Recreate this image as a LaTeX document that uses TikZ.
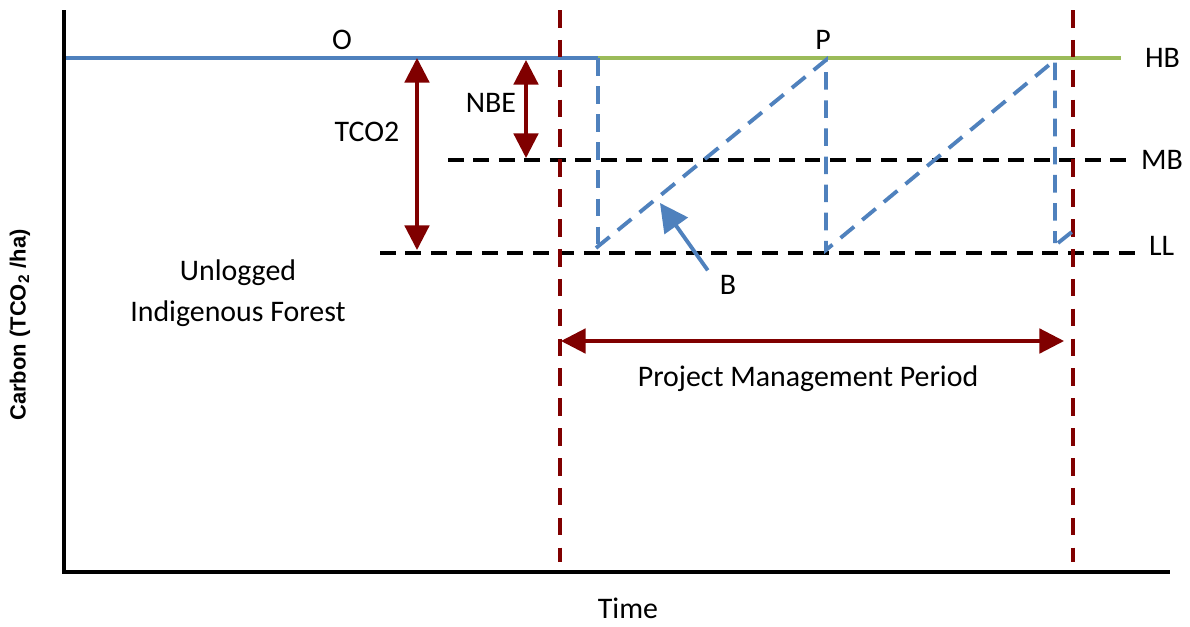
\documentclass[tikz,border=0pt]{standalone}
\usepackage{fontspec}
\setmainfont{Carlito}
\newfontfamily\axisfont{Liberation Sans}
\usetikzlibrary{arrows.meta, positioning}

\definecolor{lineblue}{HTML}{4F81BD}
\definecolor{linegreen}{HTML}{9BBB59}
\definecolor{darkred}{HTML}{800000}

\begin{document}
\begin{tikzpicture}[
    x=0.02cm, y=-0.02cm,
    every node/.style={font=\fontsize{17}{20}\selectfont, inner sep=1pt},
    axis/.style={line width=2.4pt, black},
    level/.style={line width=2pt, black, dash pattern=on 9pt off 5.5pt},
    period/.style={line width=1.9pt, darkred, dash pattern=on 10pt off 7pt},
    harvest/.style={line width=2.2pt, lineblue, dash pattern=on 10pt off 6pt},
    span/.style={line width=1.8pt, darkred, {Triangle[length=14pt,width=14pt]}-{Triangle[length=14pt,width=14pt]}}
]
    \useasboundingbox (0,0) rectangle (1190,626);

    % axes
    \coordinate (origin) at (64,572);
    \coordinate (ytop) at (64,10);
    \coordinate (xend) at (1170,572);
    \draw[axis] (ytop) -- (origin) -- (xend);

    % levels
    \coordinate (hbstart) at (66,58);
    \coordinate (hbsplit) at (598,58);
    \coordinate (hbend) at (1121,58);
    \draw[line width=1.9pt, lineblue] (hbstart) -- (hbsplit);
    \draw[line width=1.9pt, linegreen] (hbsplit) -- (hbend);
    \coordinate (mbstart) at (448,160);
    \coordinate (mbend) at (1130,160);
    \draw[level] (mbstart) -- (mbend);
    \coordinate (llstart) at (380,253);
    \coordinate (llend) at (1136,253);
    \draw[level] (llstart) -- (llend);

    % project period
    \coordinate (pstarttop) at (560,10);
    \coordinate (pstartbot) at (560,562);
    \coordinate (pendtop) at (1073,10);
    \coordinate (pendbot) at (1073,562);
    \draw[period] (pstarttop) -- (pstartbot);
    \draw[period] (pendtop) -- (pendbot);

    % harvest cycles
    \coordinate (c1) at (598,248);
    \coordinate (c2) at (596,248);
    \coordinate (c3) at (826,60);
    \coordinate (c4) at (826,250);
    \coordinate (c5) at (1055,60);
    \coordinate (c6) at (1055,243);
    \coordinate (c7) at (1058,243);
    \coordinate (c8) at (1073,231);
    \draw[harvest] (hbsplit) -- (c1);
    \draw[harvest] (c2) -- (c3) -- (c4) -- (c5) -- (c6);
    \draw[harvest] (c7) -- (c8);

    % arrows
    \coordinate (tcotop) at (417,58);
    \coordinate (tcobot) at (417,250);
    \draw[span] (tcotop) -- (tcobot);
    \coordinate (nbetop) at (526,60);
    \coordinate (nbebot) at (526,158);
    \draw[span] (nbetop) -- (nbebot);
    \coordinate (pmpleft) at (561,341);
    \coordinate (pmpright) at (1064,341);
    \draw[span] (pmpleft) -- (pmpright);

    % labels
    \node (o) at (342,40) {O};
    \node (p) at (823,40) {P};
    \node[anchor=west] (hb) at (1143,58) {HB};
    \node[anchor=west] (mb) at (1139,160) {MB};
    \node[anchor=west] (ll) at (1147,246) {LL};
    \node (tco) at (367,132) {TCO2};
    \node (nbe) at (491,103) {NBE};
    \node (b) at (728,285) {B};
    \node[align=center, font=\fontsize{17}{23}\selectfont] (forest) at (238,293) {Unlogged\\Indigenous Forest};
    \node (pmp) at (808,379) {Project Management Period};
    \node (time) at (628,608) {Time};
    \node[rotate=90, font=\axisfont\bfseries\fontsize{12.5}{15}\selectfont] (ylab) at (20,325) {Carbon (TCO\textsubscript{2} /ha)};

    \draw[line width=2.2pt, lineblue, -{Triangle[length=16pt,width=16pt]}] (b.north west) ++(-10,-3) -- (660,203);
\end{tikzpicture}
\end{document}
